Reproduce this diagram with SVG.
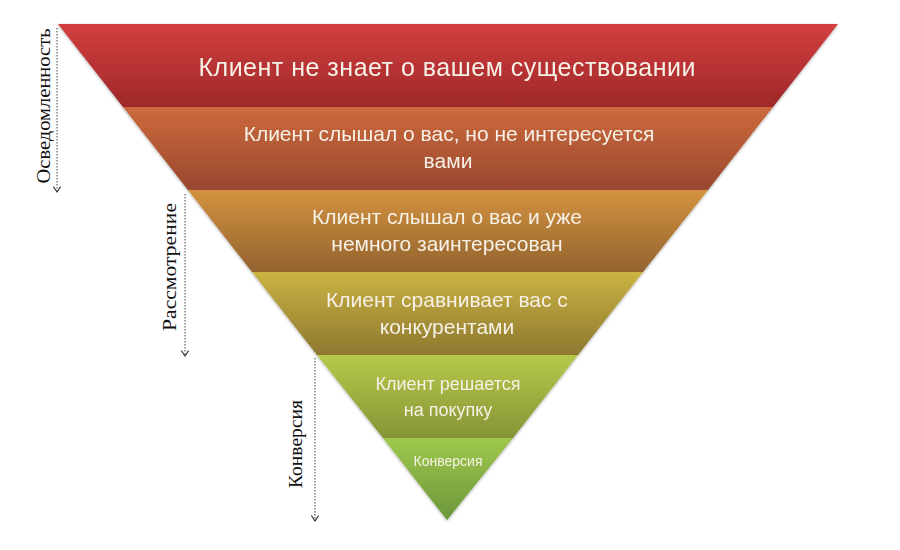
<svg xmlns="http://www.w3.org/2000/svg" width="900" height="550" viewBox="0 0 900 550">
<defs>
<linearGradient id="g1" x1="0" y1="0" x2="0" y2="1"><stop offset="0" stop-color="#d23e3e"/><stop offset="1" stop-color="#9f2829"/></linearGradient>
<linearGradient id="g2" x1="0" y1="0" x2="0" y2="1"><stop offset="0" stop-color="#cd6a3c"/><stop offset="1" stop-color="#984730"/></linearGradient>
<linearGradient id="g3" x1="0" y1="0" x2="0" y2="1"><stop offset="0" stop-color="#d3923f"/><stop offset="1" stop-color="#93632f"/></linearGradient>
<linearGradient id="g4" x1="0" y1="0" x2="0" y2="1"><stop offset="0" stop-color="#cbb343"/><stop offset="1" stop-color="#8d782f"/></linearGradient>
<linearGradient id="g5" x1="0" y1="0" x2="0" y2="1"><stop offset="0" stop-color="#b6c94a"/><stop offset="1" stop-color="#879436"/></linearGradient>
<linearGradient id="g6" x1="0" y1="0" x2="0" y2="1"><stop offset="0" stop-color="#9fc84c"/><stop offset="1" stop-color="#6b963a"/></linearGradient>
<marker id="arr" viewBox="0 0 10 10" refX="9" refY="5" markerWidth="9" markerHeight="9" orient="auto" markerUnits="userSpaceOnUse">
<path d="M3,1 L9,5 L3,9" fill="none" stroke="#333" stroke-width="1.2"/>
</marker>
<filter id="sh" x="-5%" y="-5%" width="110%" height="110%"><feGaussianBlur in="SourceAlpha" stdDeviation="1.5"/><feOffset dx="0" dy="1"/><feComponentTransfer><feFuncA type="linear" slope="0.35"/></feComponentTransfer><feMerge><feMergeNode/><feMergeNode in="SourceGraphic"/></feMerge></filter>
</defs>
<style>
.t{font-family:"Liberation Sans","Open Sans",sans-serif;fill:#f6f1e6;text-anchor:middle}
.m{font-size:21px}
.s{font-family:"Liberation Serif","DejaVu Serif",serif;fill:#111;font-size:19px;text-anchor:middle}
.c{stroke:#444;stroke-width:1;stroke-dasharray:1.5,1.5;fill:none}
</style>
<rect width="900" height="550" fill="#fff"/>
<g id="funnel" filter="url(#sh)">
<g id="level1"><polygon points="58,24 838,24 773,107 123,107" fill="url(#g1)"/>
<text class="t" x="447" y="76" font-size="25" textLength="497" lengthAdjust="spacing">Клиент не знает о вашем существовании</text></g>
<g id="level2"><polygon points="123,107 773,107 708,190 188,190" fill="url(#g2)"/>
<text class="t m" x="449" y="141">Клиент слышал о вас, но не интересуется</text>
<text class="t m" x="448" y="168">вами</text></g>
<g id="level3"><polygon points="188,190 708,190 643,272 252,272" fill="url(#g3)"/>
<text class="t m" x="447" y="224">Клиент слышал о вас и уже</text>
<text class="t m" x="447" y="251">немного заинтересован</text></g>
<g id="level4"><polygon points="252,272 643,272 578,355 317,355" fill="url(#g4)"/>
<text class="t m" x="447" y="307">Клиент сравнивает вас с</text>
<text class="t m" x="447" y="334">конкурентами</text></g>
<g id="level5"><polygon points="317,355 578,355 513,438 383,438" fill="url(#g5)"/>
<text class="t" x="448" y="390" font-size="18">Клиент решается</text>
<text class="t" x="448" y="416" font-size="18">на покупку</text></g>
<g id="level6"><polygon points="383,438 513,438 447,520" fill="url(#g6)"/>
<text class="t" x="448" y="466" font-size="14">Конверсия</text></g>
</g>
<g id="connectors">
<line class="c" x1="57" y1="28" x2="57" y2="192" marker-end="url(#arr)"/>
<line class="c" x1="185" y1="194" x2="185" y2="356" marker-end="url(#arr)"/>
<line class="c" x1="315" y1="358" x2="315" y2="521" marker-end="url(#arr)"/>
</g>
<g id="label-awareness"><text class="s" transform="translate(50,106) rotate(-90)" textLength="155" lengthAdjust="spacingAndGlyphs">Осведомленность</text></g>
<g id="label-consideration"><text class="s" transform="translate(176,267) rotate(-90)" textLength="128" lengthAdjust="spacingAndGlyphs">Рассмотрение</text></g>
<g id="label-conversion"><text class="s" transform="translate(302,444) rotate(-90)" textLength="88" lengthAdjust="spacingAndGlyphs">Конверсия</text></g>
</svg>
